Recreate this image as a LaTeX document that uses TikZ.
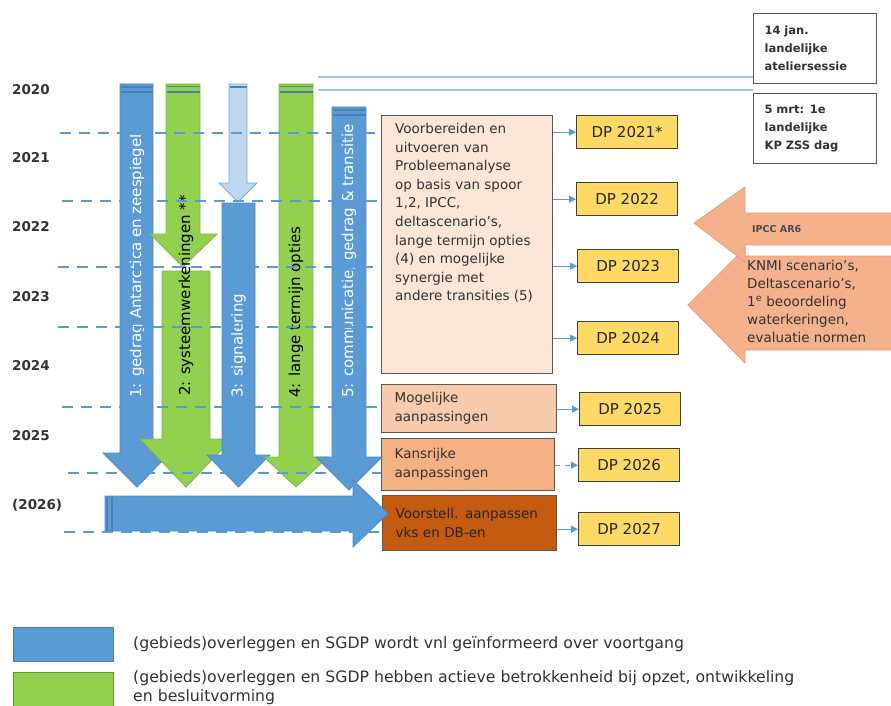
\documentclass[tikz,border=0pt]{standalone}
\usepackage{fontspec}
\setmainfont{DejaVu Sans}
\usetikzlibrary{arrows.meta}
\definecolor{ablue}{HTML}{5B9BD5}
\definecolor{abluedark}{HTML}{4A7FB3}
\definecolor{ablueedge}{HTML}{4F89C2}
\definecolor{alight}{HTML}{BDD7EE}
\definecolor{alightedge}{HTML}{7EA9D6}
\definecolor{agreen}{HTML}{92D050}
\definecolor{agreenedge}{HTML}{7DB844}
\definecolor{thinblue}{HTML}{9DC3E6}
\definecolor{peach}{HTML}{FBE5D6}
\definecolor{peachb}{HTML}{F8CBAD}
\definecolor{peachc}{HTML}{F4B183}
\definecolor{rust}{HTML}{C55A11}
\definecolor{dpyellow}{HTML}{FFD966}
\definecolor{boxedge}{HTML}{595959}
\definecolor{txt}{HTML}{333333}
\definecolor{orfill}{HTML}{F5B08C}
\definecolor{oredge}{HTML}{EE9A6E}
\newcommand\myfs[2]{\fontsize{#1}{#2}\selectfont}
\tikzset{
  bluearr/.style={fill=ablue, draw=ablueedge, line width=0.8pt},
  lightarr/.style={fill=alight, draw=alightedge, line width=0.8pt},
  greenarr/.style={fill=agreen, draw=agreenedge, line width=0.8pt},
  orarr/.style={fill=orfill, draw=oredge, line width=0.8pt},
  stripe/.style={draw=abluedark, line width=1.6pt},
  dashln/.style={draw=ablue, line width=1.4pt, dash pattern=on 11pt off 8pt},
  conn/.style={draw=ablue, line width=1.2pt, -{Triangle[length=7pt,width=7pt]}},
  thinln/.style={draw=thinblue, line width=1.3pt},
  yearlbl/.style={anchor=west, font=\myfs{13.5}{16}\bfseries, text=txt, inner sep=0pt},
  dpbox/.style={draw=black!75, fill=dpyellow, line width=1.3pt, minimum width=101pt,
    minimum height=33pt, anchor=north west, inner sep=0pt, font=\myfs{15}{18}, text=black!85},
  stepbox/.style={draw=boxedge, line width=1.3pt, anchor=north west, align=left,
    inner xsep=13pt, inner ysep=0pt, font=\myfs{13.5}{19}, text=txt},
  datebox/.style={draw=boxedge, fill=white, line width=1.3pt, anchor=north west, align=left,
    minimum width=123pt, minimum height=70pt, text width=101pt, inner xsep=11pt,
    font=\myfs{11.5}{18}\bfseries, text=black!80},
  arrtxt/.style={rotate=90, anchor=west, inner sep=0pt, font=\myfs{15}{18}},
}
\begin{document}
\begin{tikzpicture}[x=1pt,y=-1pt]
\useasboundingbox (0,0) rectangle (891,706);

% year labels
\node[yearlbl] (y2020) at (12,90) {2020};
\node[yearlbl] (y2021) at (12,158) {2021};
\node[yearlbl] (y2022) at (12,227) {2022};
\node[yearlbl] (y2023) at (12,297) {2023};
\node[yearlbl] (y2024) at (12,366) {2024};
\node[yearlbl] (y2025) at (12,436) {2025};
\node[yearlbl] (y2026) at (12,505) {(2026)};

% step boxes
\node[stepbox, fill=peach, minimum width=171pt, minimum height=258pt] (prob) at (381,115) {};
\node[anchor=north west, align=left, inner sep=0pt, font=\myfs{13.5}{18.6}, text=txt] (probtxt) at (395,123)
 {Voorbereiden en\\uitvoeren van\\Probleemanalyse\\op basis van spoor\\1,2, IPCC,\\deltascenario’s,\\lange termijn opties\\(4) en mogelijke\\synergie met\\andere transities (5)};
\node[stepbox, fill=peachb, minimum width=175pt, minimum height=48pt, text width=149pt] (mog) at (381,384) {Mogelijke\\aanpassingen};
\node[stepbox, fill=peachc, minimum width=173pt, minimum height=52pt, text width=147pt] (kans) at (381,438) {Kansrijke\\aanpassingen};
\node[stepbox, fill=rust, minimum width=174pt, minimum height=55pt, text width=148pt, text=black!85] (voor) at (382,495) {Voorstell. aanpassen\\vks en DB-en};

% DP boxes
\node[dpbox] (dp21) at (576,115) {DP 2021*};
\node[dpbox] (dp22) at (576,182) {DP 2022};
\node[dpbox] (dp23) at (577,249) {DP 2023};
\node[dpbox] (dp24) at (577,321) {DP 2024};
\node[dpbox] (dp25) at (579,392) {DP 2025};
\node[dpbox] (dp26) at (578,448) {DP 2026};
\node[dpbox] (dp27) at (578,512) {DP 2027};

% date boxes
\node[datebox] (b14) at (753,13) {14 jan.\\landelijke\\ateliersessie};
\node[datebox] (b5) at (753,93) {5 mrt: 1e\\landelijke\\KP ZSS dag};

% thin lines at top
\coordinate (l1) at (318,77);
\coordinate (l2) at (318,90);
\draw[thinln] (l1) -- (l1 -| b14.west);
\draw[thinln] (l2) -- (l2 -| b14.west);

% vertical arrows
% 1
\draw[bluearr] (120,84) -- (153,84) -- (153,453) -- (170,453) -- (137,487) -- (103,453) -- (120,453) -- cycle;
\draw[stripe] (120.5,87) -- (152.5,87);
\draw[stripe] (120.5,92) -- (152.5,92);
% 2
\draw[greenarr] (166,84) -- (200,84) -- (200,234) -- (217,234) -- (183,267) -- (150,234) -- (166,234) -- cycle;
\draw[stripe] (166.5,86.5) -- (199.5,86.5);
\draw[stripe] (166.5,92) -- (199.5,92);
\draw[greenarr] (162,271) -- (210,271) -- (210,439) -- (232,439) -- (186,487) -- (140,439) -- (162,439) -- cycle;
% 3
\draw[lightarr] (229,84) -- (247,84) -- (247,183) -- (257,183) -- (238,202) -- (219,183) -- (229,183) -- cycle;
\draw[stripe] (229.5,87) -- (246.5,87);
\draw[bluearr] (222,203) -- (255,203) -- (255,455) -- (270,455) -- (238.5,487) -- (207,455) -- (222,455) -- cycle;
% 4
\draw[greenarr] (279,84) -- (313,84) -- (313,457) -- (328,457) -- (296,487) -- (264,457) -- (279,457) -- cycle;
\draw[stripe] (279.5,86.5) -- (312.5,86.5);
\draw[stripe] (279.5,92) -- (312.5,92);
% 5
\draw[bluearr] (332,107) -- (366,107) -- (366,457) -- (382,457) -- (349,490) -- (316,457) -- (332,457) -- cycle;
\draw[stripe] (332.5,110) -- (365.5,110);
\draw[stripe] (332.5,115) -- (365.5,115);

% arrow texts
\node[arrtxt, text=white] (t1) at (137,398) {1: gedrag Antarctica en zeespiegel};
\node[arrtxt, text=black] (t2) at (186,396) {2: systeemwerkeningen **};
\node[arrtxt, text=white] (t3) at (238.5,398) {3: signalering};
\node[arrtxt, text=black] (t4) at (296,398) {4: lange termijn opties};
\node[arrtxt, text=white] (t5) at (349,398) {5: communicatie, gedrag \& transitie};

% horizontal arrow
\draw[bluearr] (105,496) -- (353,496) -- (353,480) -- (388,513.5) -- (353,547) -- (353,531) -- (105,531) -- cycle;
\draw[draw=abluedark, line width=2pt] (107,496.5) -- (107,530.5);
\draw[draw=abluedark, line width=1.5pt] (112,496.5) -- (112,530.5);

% dashed year lines
\coordinate (d1) at (60,133);
\coordinate (d2) at (62,201);
\coordinate (d3) at (58,267);
\coordinate (d4) at (58,327);
\coordinate (d5) at (62,407);
\coordinate (d6) at (68,473);
\coordinate (d7) at (64,532);
\draw[dashln] (d1) -- (d1 -| prob.west);
\draw[dashln] (d2) -- (d2 -| prob.west);
\draw[dashln] (d3) -- (d3 -| prob.west);
\draw[dashln] (d4) -- (d4 -| prob.west);
\draw[dashln] (d5) -- (d5 -| mog.west);
\draw[dashln] (d6) -- (d6 -| kans.west);
\draw[dashln] (d7) -- (d7 -| voor.west);

% connectors to DP boxes
\draw[conn] (prob.east |- dp21.west) -- (dp21.west);
\draw[conn] (prob.east |- dp22.west) -- (dp22.west);
\draw[conn] (prob.east |- dp23.west) -- (dp23.west);
\draw[conn] (prob.east |- dp24.west) -- (dp24.west);
\draw[conn] (mog.east |- dp25.west) -- (dp25.west);
\draw[conn, dash pattern=on 5pt off 5pt] (kans.east |- dp26.west) -- (dp26.west);
\draw[conn] (voor.east |- dp27.west) -- (dp27.west);

% orange arrows
\draw[orarr] (893,256) -- (745,256) -- (745,248) -- (688,305) -- (745,363) -- (745,350) -- (893,350);
\draw[orarr] (893,213) -- (745,213) -- (745,187) -- (694,223) -- (745,262) -- (745,245) -- (893,245);
\node[anchor=west, inner sep=0pt, font=\myfs{9.5}{12}\bfseries, text=black!70] (ipcc) at (752,229) {IPCC AR6};
\node[anchor=north west, align=left, inner sep=0pt, font=\myfs{13.5}{18}, text=txt] (knmi) at (747,260)
 {KNMI scenario’s,\\Deltascenario’s,\\1\textsuperscript{e} beoordeling\\waterkeringen,\\evaluatie normen};

% legend
\node[draw=abluedark, fill=ablue, line width=1.3pt, minimum width=100pt, minimum height=34pt, anchor=north west, inner sep=0pt] (legb) at (13,627) {};
\node[draw=agreenedge!80!black, fill=agreen, line width=1.3pt, minimum width=100pt, minimum height=40pt, anchor=north west, inner sep=0pt] (legg) at (13,672) {};
\node[anchor=west, inner sep=0pt, font=\myfs{15.7}{18}, text=txt] (legbt) at (133,644)
 {(gebieds)overleggen en SGDP wordt vnl geïnformeerd over voortgang};
\node[anchor=north west, align=left, inner sep=0pt, font=\myfs{15.7}{19}, text=txt] (leggt) at (133,670)
 {(gebieds)overleggen en SGDP hebben actieve betrokkenheid bij opzet, ontwikkeling\\en besluitvorming};
\end{tikzpicture}
\end{document}
